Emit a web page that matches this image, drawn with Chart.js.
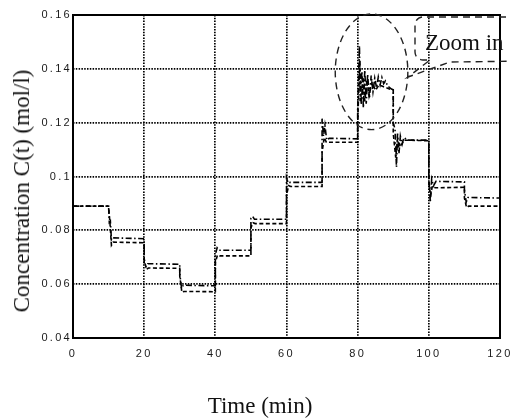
<!DOCTYPE html>
<html>
<head>
<meta charset="utf-8">
<script src="https://cdn.jsdelivr.net/npm/chart.js@4.4.0/dist/chart.umd.min.js"></script>
<style>
  body { margin: 0; background: #fff; }
  #wrap { position: relative; width: 511px; height: 418px; }
  .ttl { position: absolute; font-family: "Liberation Serif", "Times New Roman", serif; font-size: 23px; color: #111; white-space: nowrap; }
  #xt { left: 260px; top: 406px; transform: translate(-50%, -50%); }
  #yt { left: 22px; top: 191px; transform: translate(-50%, -50%) rotate(-90deg); }
</style>
</head>
<body>
<div id="wrap">
  <canvas id="concChart" width="511" height="418"></canvas>
  <div class="ttl" id="xt">Time (min)</div>
  <div class="ttl" id="yt">Concentration C(t) (mol/l)</div>
</div>
<script>
// time axis and tick labels
const xTickLabels = ["0", "20", "40", "60", "80", "100", "120"];
const yTickLabels = ["0.04", "0.06", "0.08", "0.1", "0.12", "0.14", "0.16"];

// series 1 (dash-dot)
const timeA = [0, 10, 10.2, 10.5, 10.8, 11.2, 20, 20, 20.5, 21, 30, 30, 30.5, 31, 40,
  40, 40.5, 41, 50, 50, 50.5, 51, 60, 60, 60.5, 61, 70, 70, 70.4, 70.8, 71.3, 72, 80,
  80, 80.5, 80.7, 81.2, 81.6, 82, 82.4, 82.8, 83.3, 83.8, 84.3, 84.8, 85.3, 85.8, 86.3,
  86.8, 87.3, 87.8, 88.5, 89.5, 90, 90, 90.5, 90.9, 91.2, 91.6, 92, 92.5, 93, 94, 100,
  100, 100.4, 100.8, 101.3, 102, 110, 110, 110.5, 111, 120];
const concA = [0.089, 0.089, 0.083, 0.0835, 0.0765, 0.0772, 0.0769, 0.068, 0.0665, 0.0676, 0.0674, 0.064, 0.0585, 0.0596, 0.0594,
  0.071, 0.0735, 0.0726, 0.0726, 0.0845, 0.0852, 0.0841, 0.0841, 0.0995, 0.0975, 0.0978, 0.0978, 0.1215, 0.115, 0.119, 0.1135, 0.1142, 0.114,
  0.125, 0.1485, 0.128, 0.139, 0.1255, 0.1395, 0.127, 0.138, 0.129, 0.1375, 0.1315, 0.1365, 0.133, 0.137, 0.134,
  0.1368, 0.1345, 0.1355, 0.1335, 0.1325, 0.1322, 0.12, 0.1175, 0.1035, 0.116, 0.1085, 0.115, 0.112, 0.1145, 0.1135, 0.1135,
  0.1, 0.0905, 0.099, 0.0965, 0.0982, 0.098, 0.095, 0.0905, 0.0922, 0.092];

// series 2 (dashed)
const timeB = [0, 10, 10.4, 10.8, 11.3, 20, 20, 20.6, 21.2, 30, 30, 30.6, 31.2, 40,
  40, 40.6, 41.2, 50, 50, 50.6, 51.2, 60, 60, 60.6, 61.2, 70, 70, 70.6, 71.2, 80,
  80, 80.6, 81, 81.5, 82, 82.6, 83.2, 84, 85, 86, 87, 88, 90,
  90, 90.7, 91.2, 92, 93, 100, 100, 100.5, 101, 101.8, 110, 110, 110.6, 111.2, 120];
const concB = [0.089, 0.089, 0.0825, 0.0745, 0.0756, 0.0754, 0.0695, 0.0655, 0.066, 0.0659, 0.063, 0.057, 0.0573, 0.0572,
  0.068, 0.0708, 0.0705, 0.0705, 0.081, 0.0828, 0.0825, 0.0825, 0.093, 0.0966, 0.0963, 0.0963, 0.109, 0.1145, 0.1127, 0.1127,
  0.12, 0.143, 0.127, 0.137, 0.128, 0.136, 0.13, 0.135, 0.132, 0.134, 0.1335, 0.133, 0.132,
  0.116, 0.107, 0.114, 0.111, 0.1135, 0.1133, 0.097, 0.093, 0.0965, 0.0958, 0.096, 0.092, 0.0885, 0.089, 0.089];

// zoom-in ellipse, in data units
const zoomCenter = { t: 83.9, c: 0.1389 };
const zoomRadius = { t: 10.2, c: 0.0215 };

const toPoints = (ts, cs) => ts.map((t, i) => ({ x: t, y: cs[i] }));

const frameAndNotes = {
  id: "frameAndNotes",
  beforeDatasetsDraw(chart) {
    const { ctx, chartArea: a } = chart;
    ctx.save();
    ctx.strokeStyle = "#000";
    ctx.lineWidth = 2;
    ctx.setLineDash([]);
    ctx.strokeRect(a.left, a.top, a.right - a.left, a.bottom - a.top);
    ctx.restore();
  },
  afterDatasetsDraw(chart) {
    // spaced-out tick digits, drawn in the next layer
    chart.ctx.letterSpacing = "2.3px";
  },
  afterDraw(chart) {
    const { ctx, scales } = chart;
    ctx.letterSpacing = "0px";
    const x = scales.x, y = scales.y;
    const cx = x.getPixelForValue(zoomCenter.t);
    const cy = y.getPixelForValue(zoomCenter.c);
    const rx = x.getPixelForValue(zoomCenter.t + zoomRadius.t) - cx;
    const ry = cy - y.getPixelForValue(zoomCenter.c + zoomRadius.c);
    ctx.save();
    ctx.strokeStyle = "#222";
    ctx.lineWidth = 1.4;
    ctx.setLineDash([7, 5]);
    ctx.beginPath();
    ctx.ellipse(cx, cy, rx, ry, 0, 0, Math.PI * 2);
    ctx.stroke();

    // callout balloon
    const top = chart.chartArea.top + 2, bot = 60, left = 415, r = 8;
    ctx.beginPath();
    ctx.moveTo(530, top);
    ctx.lineTo(left + r, top);
    ctx.arcTo(left, top, left, top + r, r);
    ctx.lineTo(left, bot - r);
    ctx.arcTo(left, bot, left + r, bot, r);
    ctx.lineTo(430, bot);
    ctx.lineTo(408, 77);
    ctx.lineTo(450, 62);
    ctx.lineTo(530, 61);
    ctx.stroke();
    ctx.setLineDash([]);
    ctx.fillStyle = "#111";
    ctx.font = '23px "Liberation Serif", "Times New Roman", serif';
    ctx.textBaseline = "alphabetic";
    ctx.fillText("Zoom in", 425, 50);
    ctx.restore();
  }
};

new Chart(document.getElementById("concChart"), {
  type: "line",
  data: {
    datasets: [
      {
        label: "C(t) 1",
        data: toPoints(timeA, concA),
        borderColor: "#000",
        borderWidth: 1.6,
        borderDash: [6, 2.5, 1.5, 2.5],
        pointRadius: 0,
        tension: 0,
      },
      {
        label: "C(t) 2",
        data: toPoints(timeB, concB),
        borderColor: "#000",
        borderWidth: 1.6,
        borderDash: [4, 2.5],
        pointRadius: 0,
        tension: 0,
      },
    ],
  },
  options: {
    responsive: false,
    animation: false,
    layout: { padding: { top: 15, right: 11, left: 0, bottom: 0 } },
    plugins: { legend: { display: false }, tooltip: { enabled: false } },
    scales: {
      x: {
        type: "linear",
        min: 0,
        max: 120,
        afterFit(scale) { scale.height = 80; },
        ticks: {
          stepSize: 20,
          z: 1,
          padding: 1,
          maxRotation: 0,
          color: "#1a1a1a",
          font: { family: "Liberation Sans, Arial, sans-serif", size: 11 },
          callback: (v, i) => xTickLabels[i],
        },
        grid: { color: "#000", lineWidth: 1.7, drawTicks: true, tickLength: 8, tickColor: "rgba(0,0,0,0)" },
        border: { display: false, dash: [1.5, 1.3] },
      },
      y: {
        min: 0.04,
        max: 0.16,
        afterFit(scale) { scale.width = 73; },
        ticks: {
          stepSize: 0.02,
          z: 1,
          padding: 1,
          color: "#1a1a1a",
          font: { family: "Liberation Sans, Arial, sans-serif", size: 11 },
          callback: (v, i) => yTickLabels[i],
        },
        grid: { color: "#000", lineWidth: 1.7, drawTicks: false },
        border: { display: false, dash: [1.5, 1.3] },
      },
    },
  },
  plugins: [frameAndNotes],
});
</script>
</body>
</html>
